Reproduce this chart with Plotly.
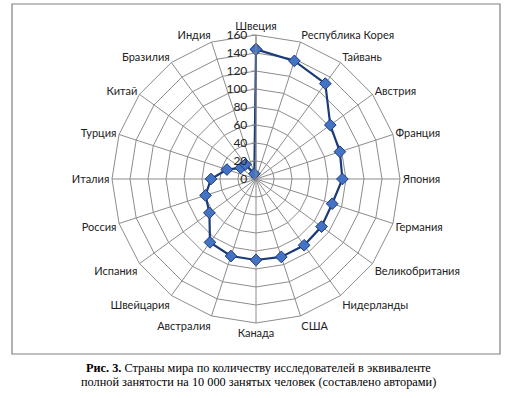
import plotly.graph_objects as go

categories = ["Швеция", "Республика Корея", "Тайвань", "Австрия", "Франция", "Япония",
              "Германия", "Великобритания", "Нидерланды", "США", "Канада", "Австралия",
              "Швейцария", "Испания", "Россия", "Италия", "Турция", "Китай", "Бразилия", "Индия"]
values = [144, 138, 131, 102, 98, 96, 89, 90, 91, 91, 90, 90, 87, 64, 59, 50, 34, 21, 20, 6]
radial_ticks = [0, 20, 40, 60, 80, 100, 120, 140, 160]

W, H = 517, 398
cx, cy, R = 256, 179, 144

fig = go.Figure()
fig.add_trace(go.Scatterpolar(
    r=values + values[:1],
    theta=categories + categories[:1],
    mode="lines+markers",
    line=dict(color="#1B3A7A", width=2.2),
    marker=dict(symbol="diamond", size=9, color="#4472C4",
                line=dict(color="#1B3A7A", width=1)),
    showlegend=False,
    hoverinfo="skip",
))

fig.update_layout(
    width=W, height=H,
    margin=dict(l=0, r=0, t=0, b=0),
    paper_bgcolor="white",
    plot_bgcolor="white",
    font=dict(family="Lato, 'Open Sans', sans-serif", size=11, color="#222"),
    polar=dict(
        domain=dict(x=[(cx - R) / W, (cx + R) / W],
                    y=[(H - cy - R) / H, (H - cy + R) / H]),
        bgcolor="white",
        gridshape="linear",
        angularaxis=dict(
            direction="clockwise", rotation=90,
            showline=True, linecolor="#8C8C8C", linewidth=1,
            gridcolor="#8C8C8C", gridwidth=1,
            ticks="", tickfont=dict(size=11, color="#222"),
        ),
        radialaxis=dict(
            range=[0, 160], tickvals=radial_ticks, ticktext=[str(t) for t in radial_ticks],
            angle=90, tickangle=90, side="counterclockwise",
            showline=True, linecolor="#8C8C8C", linewidth=1,
            gridcolor="#8C8C8C", gridwidth=1,
            ticks="outside", ticklen=4, tickcolor="#8C8C8C",
            tickfont=dict(size=12, color="#222"),
        ),
    ),
    shapes=[dict(type="rect", xref="paper", yref="paper",
                 x0=12 / W, x1=500 / W, y0=(H - 354) / H, y1=(H - 4) / H,
                 line=dict(color="#7F7F7F", width=1.2), fillcolor="rgba(0,0,0,0)")],
    annotations=[
        dict(xref="paper", yref="paper", x=258 / W, y=(H - 368) / H,
             text="<b>Рис. 3.</b> Страны мира по количеству исследователей в эквиваленте",
             showarrow=False, xanchor="center", yanchor="middle",
             font=dict(family="'Liberation Serif', 'DejaVu Serif', serif", size=12.3, color="#000")),
        dict(xref="paper", yref="paper", x=258 / W, y=(H - 382) / H,
             text="полной занятости на 10 000 занятых человек (составлено авторами)",
             showarrow=False, xanchor="center", yanchor="middle",
             font=dict(family="'Liberation Serif', 'DejaVu Serif', serif", size=12.3, color="#000")),
    ],
)

fig.write_html("out.html", config={"displayModeBar": False},
               post_script="document.body.style.margin='0px';")
